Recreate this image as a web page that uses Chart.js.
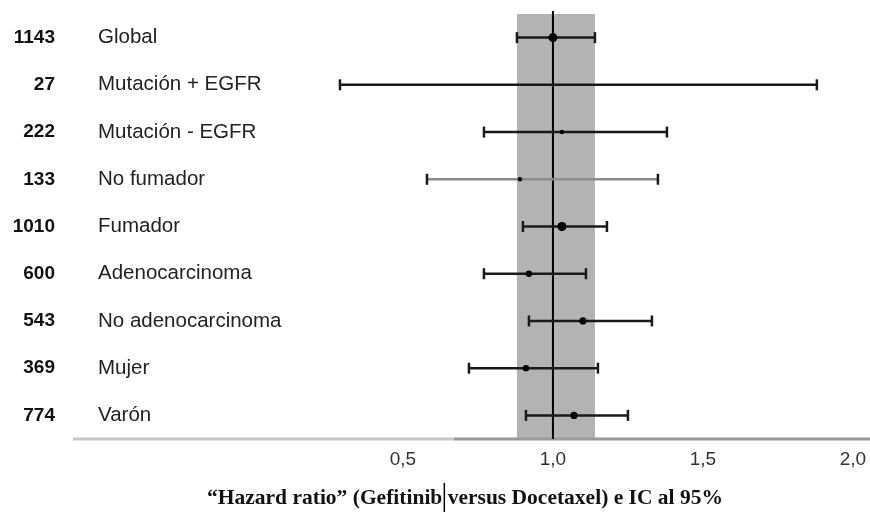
<!DOCTYPE html>
<html>
<head>
<meta charset="utf-8">
<script src="https://cdn.jsdelivr.net/npm/chart.js@4.4.1/dist/chart.umd.min.js"></script>
<style>
  body { margin: 0; background: #fff; }
  #wrap { width: 870px; height: 516px; }
</style>
</head>
<body>
<div id="wrap"><canvas id="forest"></canvas></div>
<script>
// subgroups (top to bottom), patients per subgroup, HR and 95% CI
const categories = ['Global', 'Mutación + EGFR', 'Mutación - EGFR', 'No fumador', 'Fumador',
                    'Adenocarcinoma', 'No adenocarcinoma', 'Mujer', 'Varón'];
const patients = [1143, 27, 222, 133, 1010, 600, 543, 369, 774];
const hazardRatio = [1.00, null, 1.03, 0.89, 1.03, 0.92, 1.10, 0.91, 1.07];
const ciLow = [0.88, 0.29, 0.77, 0.58, 0.90, 0.77, 0.92, 0.72, 0.91];
const ciHigh = [1.14, 1.88, 1.38, 1.35, 1.18, 1.11, 1.33, 1.15, 1.25];
const xTicks = [0.5, 1.0, 1.5, 2.0];

// marker look
const markerRadius = [4.5, 0, 2.2, 2.2, 4.5, 3.2, 3.6, 3.2, 3.6];
const lineColors = categories.map((c, i) => i === 3 ? '#8c8c8c' : '#1a1a1a');

const whiskers = categories.map((c, i) => ({
    data: [{ x: ciLow[i], y: i }, { x: ciHigh[i], y: i }],
    showLine: true,
    borderColor: lineColors[i],
    borderWidth: 2.5,
    pointStyle: 'line',
    pointRotation: 90,
    pointRadius: 5.5,
    pointBorderColor: '#1a1a1a',
    pointBorderWidth: 2.5
}));

const points = [];
const pointSizes = [];
hazardRatio.forEach((v, i) => {
    if (v === null) return;
    points.push({ x: v, y: i });
    pointSizes.push(markerRadius[i]);
});

const decor = {
    id: 'decor',
    beforeDatasetsDraw(chart) {
        const { ctx, chartArea, scales: { x } } = chart;
        ctx.save();
        // shaded band = global CI
        const b0 = x.getPixelForValue(ciLow[0]);
        const b1 = x.getPixelForValue(ciHigh[0]);
        ctx.fillStyle = '#b3b3b3';
        ctx.fillRect(b0, chartArea.top, b1 - b0, chartArea.bottom - chartArea.top);
        // axis line
        const ay = chartArea.bottom;
        const split = x.getPixelForValue(0.67);
        ctx.lineWidth = 3;
        ctx.strokeStyle = '#c8c8c8';
        ctx.beginPath(); ctx.moveTo(chartArea.left, ay); ctx.lineTo(split, ay); ctx.stroke();
        ctx.strokeStyle = '#9a9a9a';
        ctx.beginPath(); ctx.moveTo(split, ay); ctx.lineTo(chartArea.right, ay); ctx.stroke();
        // reference line HR = 1
        const rx = x.getPixelForValue(1);
        ctx.strokeStyle = '#000';
        ctx.lineWidth = 2;
        ctx.beginPath(); ctx.moveTo(rx, chartArea.top - 3); ctx.lineTo(rx, chartArea.bottom); ctx.stroke();
        ctx.restore();
    },
    afterDraw(chart) {
        const { ctx, scales: { y } } = chart;
        ctx.save();
        ctx.textBaseline = 'middle';
        categories.forEach((name, i) => {
            const yy = y.getPixelForValue(i);
            ctx.fillStyle = '#111';
            ctx.font = 'bold 19px "Liberation Sans", Arial, sans-serif';
            ctx.textAlign = 'right';
            ctx.fillText(String(patients[i]), 55, yy);
            ctx.fillStyle = '#222';
            ctx.font = '20.5px "Liberation Sans", Arial, sans-serif';
            ctx.textAlign = 'left';
            ctx.fillText(name, 98, yy);
        });
        // axis title (with the stray cursor bar after "Gefitinib")
        const part1 = '\u201CHazard ratio\u201D (Gefitinib';
        const part2 = 'versus Docetaxel) e IC al 95%';
        ctx.font = 'bold 21.5px "Liberation Serif", "Times New Roman", serif';
        ctx.fillStyle = '#111';
        ctx.textAlign = 'left';
        const full = part1 + ' ' + part2;
        const w = ctx.measureText(full).width;
        const x0 = 465 - w / 2;
        ctx.fillText(full, x0, 498);
        const bx = x0 + ctx.measureText(part1).width + 2;
        ctx.strokeStyle = '#000';
        ctx.lineWidth = 1.5;
        ctx.beginPath(); ctx.moveTo(bx, 483); ctx.lineTo(bx, 512); ctx.stroke();
        ctx.restore();
    }
};

new Chart(document.getElementById('forest'), {
    type: 'scatter',
    data: {
        datasets: [{
            data: points,
            pointStyle: 'circle',
            pointRadius: pointSizes,
            pointBackgroundColor: '#000',
            pointBorderColor: '#000',
            pointBorderWidth: 0
        }].concat(whiskers)
    },
    options: {
        responsive: true,
        maintainAspectRatio: false,
        animation: false,
        layout: { autoPadding: false, padding: { left: 73, top: 14, right: 0, bottom: 0 } },
        plugins: { legend: { display: false }, tooltip: { enabled: false } },
        scales: {
            x: {
                type: 'linear',
                min: -0.6,
                max: 2.057,
                grid: { display: false, drawTicks: false },
                border: { display: false },
                afterBuildTicks: s => { s.ticks = xTicks.map(v => ({ value: v })); },
                afterFit: s => { s.height = 77; s.paddingLeft = 0; s.paddingRight = 0; },
                ticks: {
                    autoSkip: false,
                    maxRotation: 0,
                    padding: 9,
                    color: '#333',
                    font: { family: 'Liberation Sans', size: 19 },
                    callback: v => v.toFixed(1).replace('.', ',')
                }
            },
            y: {
                type: 'linear',
                min: -0.5,
                max: 8.5,
                reverse: true,
                display: false
            }
        }
    },
    plugins: [decor]
});
</script>
</body>
</html>
